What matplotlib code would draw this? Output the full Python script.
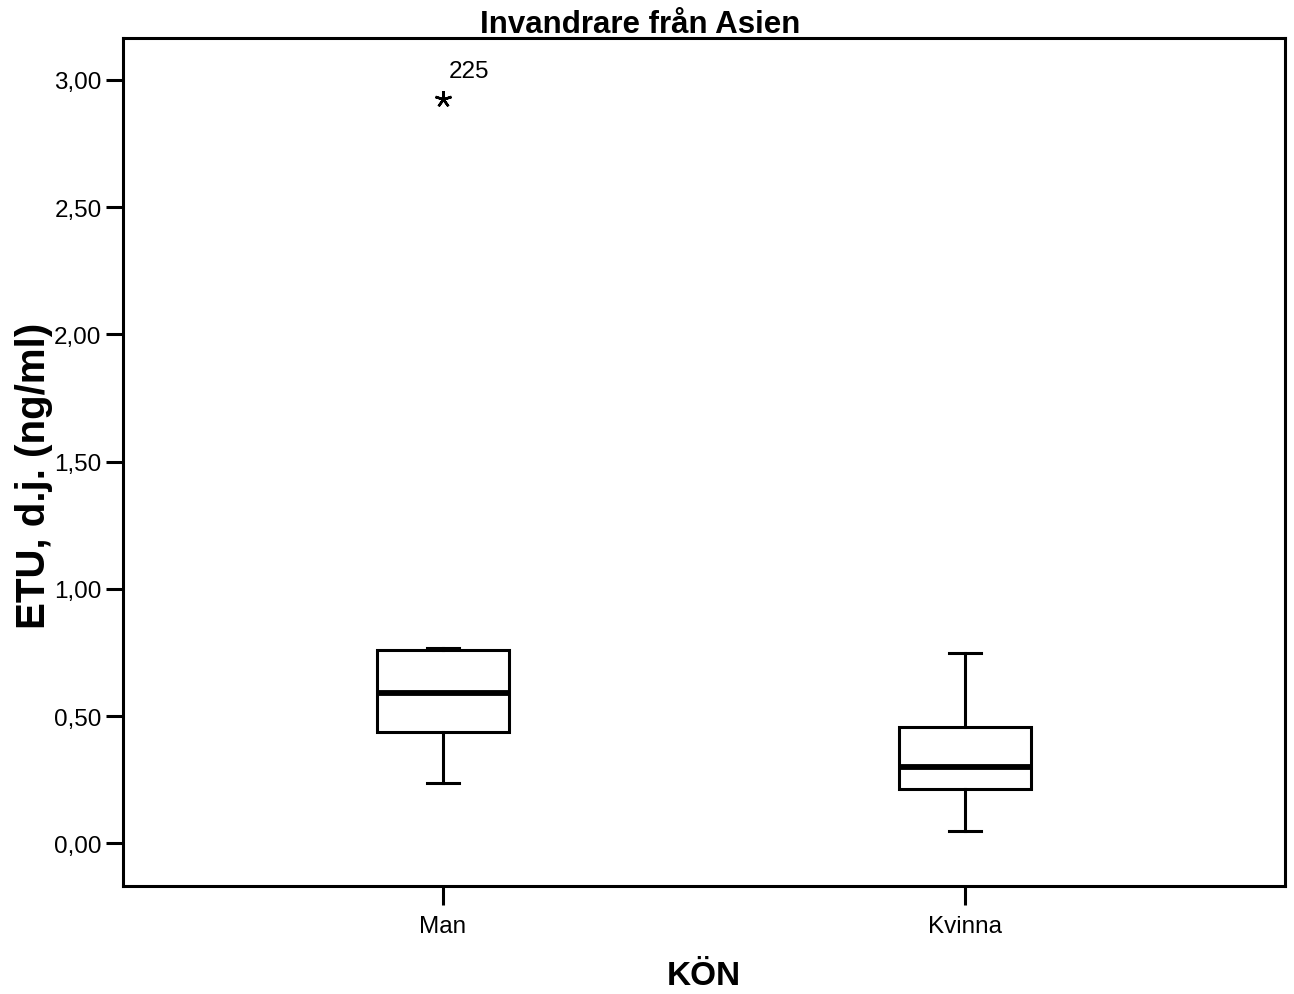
import matplotlib
matplotlib.use("Agg")
import matplotlib.pyplot as plt
from matplotlib.ticker import FuncFormatter

# Box statistics per group
categories = ["Man", "Kvinna"]
whisker_low = [0.237, 0.047]
q1 = [0.439, 0.213]
median = [0.590, 0.299]
q3 = [0.760, 0.458]
whisker_high = [0.768, 0.748]
outlier_values = [[2.925], []]
outlier_ids = [["225"], []]

title = "Invandrare från Asien"
xlabel = "KÖN"
ylabel = "ETU, d.j. (ng/ml)"
yticks = [0.0, 0.5, 1.0, 1.5, 2.0, 2.5, 3.0]

plt.rcParams["font.family"] = ["Liberation Sans", "DejaVu Sans"]

fig = plt.figure(figsize=(12.94, 9.95), dpi=100)
ax = fig.add_axes([0.0951, 0.1082, 0.9930 - 0.0951, 0.9608 - 0.1082])

stats = []
for i, name in enumerate(categories):
    stats.append({
        "label": name,
        "whislo": whisker_low[i],
        "q1": q1[i],
        "med": median[i],
        "q3": q3[i],
        "whishi": whisker_high[i],
        "fliers": [],
    })

positions = list(range(1, len(categories) + 1))
lw = 2.2
ax.bxp(stats, positions=positions, widths=0.252, showfliers=False,
       patch_artist=True,
       boxprops=dict(facecolor="white", edgecolor="black", linewidth=lw),
       medianprops=dict(color="black", linewidth=4.2, solid_capstyle="butt"),
       whiskerprops=dict(color="black", linewidth=lw),
       capprops=dict(color="black", linewidth=lw),
       capwidths=0.062)

# Extreme values with case labels
for pos, vals, ids in zip(positions, outlier_values, outlier_ids):
    for v, lab in zip(vals, ids):
        ax.plot(pos, v, linestyle="none", marker=(5, 2, 0), markersize=12,
                markeredgewidth=1.8, color="black")
        ax.annotate(lab, xy=(pos, v), xytext=(4, 12), textcoords="offset points",
                    fontsize=17.5, ha="left", va="bottom")

ax.set_xlim(0.388, 2.612)
ax.set_ylim(-0.169, 3.165)
ax.set_yticks(yticks)
ax.yaxis.set_major_formatter(FuncFormatter(lambda v, p: f"{v:.2f}".replace(".", ",")))
ax.set_xticks(positions)
ax.set_xticklabels(categories)

for s in ax.spines.values():
    s.set_linewidth(2.2)
ax.tick_params(axis="y", length=12.5, width=2.2, labelsize=17.5, pad=3)
ax.tick_params(axis="x", length=13.5, width=2.2, labelsize=17.5, pad=7)

fig.text(0.495, 0.9665, title, fontsize=22.5, fontweight="bold",
         ha="center", va="baseline")
ax.set_xlabel(xlabel, fontsize=24, fontweight="bold", labelpad=17)
ax.set_ylabel(ylabel, fontsize=29, fontweight="bold")
ax.yaxis.set_label_coords(-0.060, 0.485)

fig.savefig("out.png", dpi=100)
